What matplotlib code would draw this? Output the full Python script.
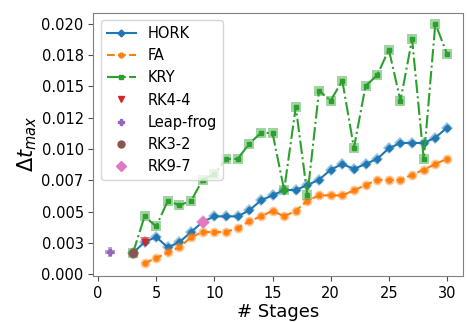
import numpy as np
import matplotlib
matplotlib.use("Agg")
import matplotlib.pyplot as plt
from matplotlib.ticker import FormatStrFormatter, MultipleLocator

# stages and max time step per method
hork_x = list(range(3, 31))
hork_y = [0.00168, 0.00256, 0.00296, 0.00213, 0.00256, 0.00336, 0.00418, 0.00461,
          0.00461, 0.00461, 0.00509, 0.00589, 0.00629, 0.00672, 0.00672, 0.00712,
          0.00754, 0.00834, 0.0088, 0.0084, 0.0088, 0.0092, 0.01005, 0.01048,
          0.01048, 0.01048, 0.0109, 0.0117]

fa_x = list(range(4, 31))
fa_y = [0.00088, 0.00128, 0.00173, 0.00213, 0.00296, 0.00336, 0.00336, 0.00336,
        0.00368, 0.00421, 0.00461, 0.00506, 0.00461, 0.00506, 0.00586, 0.00629,
        0.00629, 0.00629, 0.00669, 0.00712, 0.00752, 0.00752, 0.00752, 0.00794,
        0.00834, 0.0088, 0.0092]

kry_x = list(range(3, 31))
kry_y = [0.00168, 0.00461, 0.00381, 0.00586, 0.00549, 0.00586, 0.00754, 0.008,
         0.0092, 0.0092, 0.01042, 0.01128, 0.01128, 0.00672, 0.01336, 0.00629,
         0.01466, 0.01386, 0.01546, 0.01008, 0.01504, 0.01589, 0.01794, 0.01386,
         0.01877, 0.0092, 0.02002, 0.0176]

single_names = ["RK4-4", "Leap-frog", "RK3-2", "RK9-7"]
single_x = [4, 1, 3, 9]
single_y = [0.00256, 0.00173, 0.00168, 0.00418]
single_markers = ["v", "P", "o", "D"]
single_colors = ["C3", "C4", "C5", "C6"]

plt.rcParams['font.size'] = 10.5

fig = plt.figure(figsize=(4.67, 3.22), dpi=100)
ax = fig.add_axes([0.2, 0.143, 0.792, 0.818])

# lines with small markers + big translucent markers behind
ax.plot(hork_x, hork_y, '-', marker='D', ms=3.5, color='C0', label='HORK')
ax.plot(hork_x, hork_y, 'D', ms=6.5, mew=0, color='C0', alpha=0.45)
ax.plot(fa_x, fa_y, '--', marker='o', ms=3.5, color='C1', label='FA')
ax.plot(fa_x, fa_y, 'o', ms=7, mew=0, color='C1', alpha=0.45)
ax.plot(kry_x, kry_y, '-.', marker='s', ms=3.5, color='C2', label='KRY')
ax.plot(kry_x, kry_y, 's', ms=7, mew=0, color='C2', alpha=0.45)

for name, x, y, m, c in zip(single_names, single_x, single_y, single_markers, single_colors):
  ax.plot([x], [y], m, ms=5, color=c, label=name)
  ax.plot([x], [y], m, ms=7.5, mew=0, color=c, alpha=0.6)

ax.yaxis.set_major_locator(MultipleLocator(0.0025))
ax.yaxis.set_major_formatter(FormatStrFormatter('%.3f'))
ax.xaxis.set_major_locator(MultipleLocator(5))
ax.set_xlim(-0.4, 31.4)
ax.set_ylim(-0.00015, 0.0209)

for s in ax.spines.values():
  s.set_color('0.5')
ax.tick_params(color='0.3')

ax.set_xlabel('# Stages', fontsize=13, labelpad=2)
ax.set_ylabel(r'$\Delta t_{max}$', fontsize=15, labelpad=2)

ax.legend(loc='upper left', fontsize=10.5)

fig.savefig('out.png', dpi=100)
